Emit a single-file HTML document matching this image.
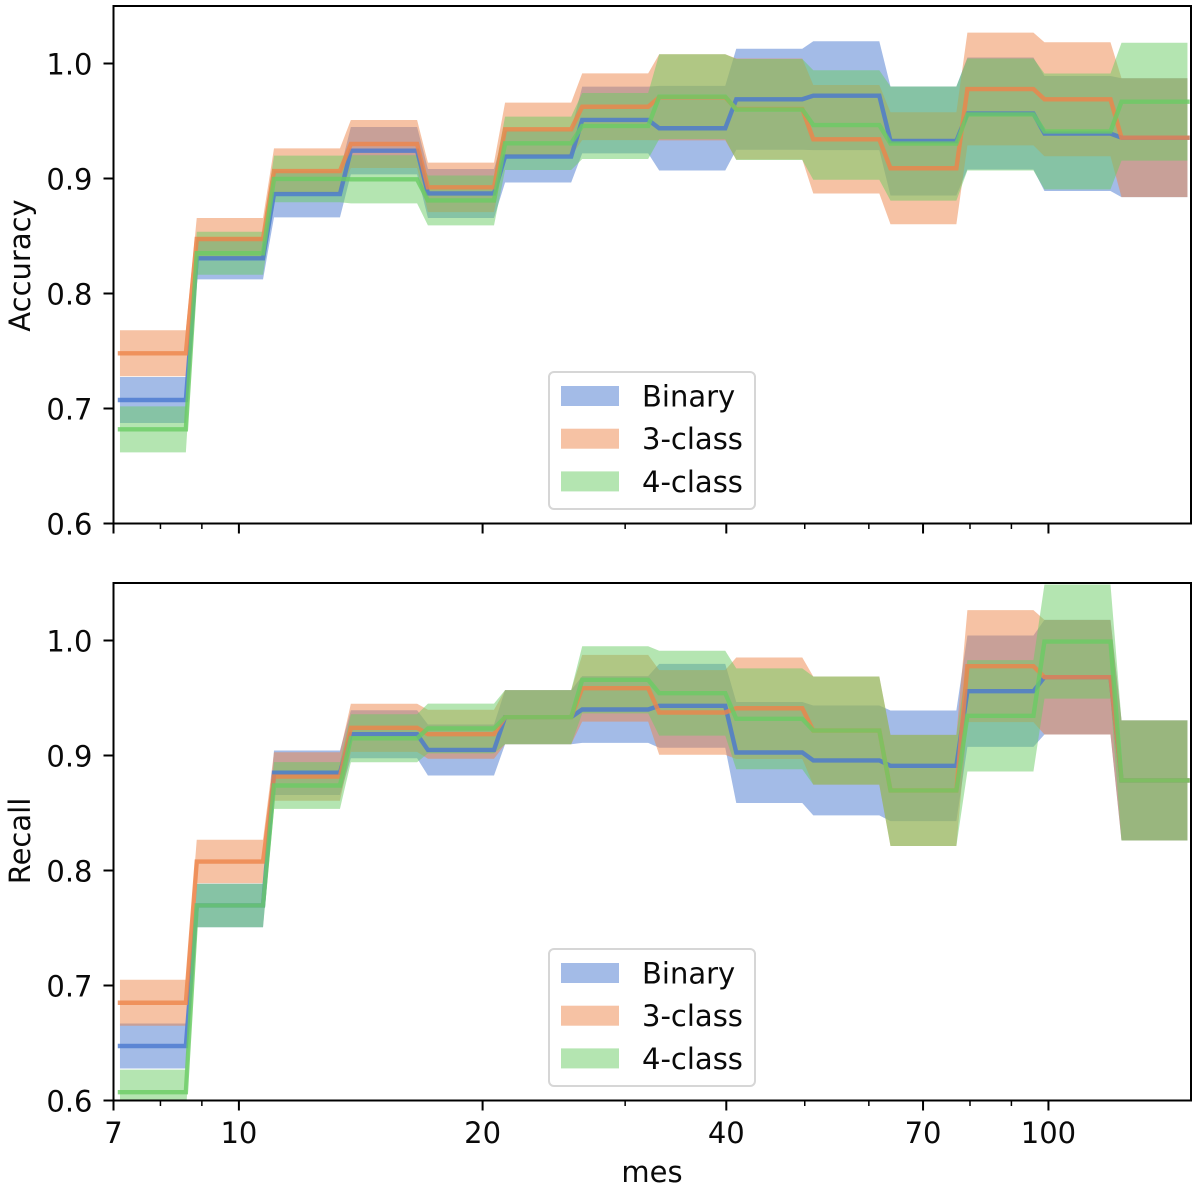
<!DOCTYPE html>
<html lang="en">
<head>
<meta charset="utf-8">
<title>Accuracy and Recall vs mes</title>
<style>
  html, body { margin: 0; padding: 0; background: #ffffff; }
  svg { display: block; }
  text { font-family: "DejaVu Sans", "Liberation Sans", sans-serif; font-size: 29px; fill: #0a0a0a; }
</style>
</head>
<body>
<svg id="chart" xmlns="http://www.w3.org/2000/svg" width="1200" height="1191" viewBox="0 0 1200 1191">
  <rect x="0" y="0" width="1200" height="1191" fill="#ffffff"/>
  <defs>
    <clipPath id="clip-accuracy"><rect x="113.5" y="6" width="1077.5" height="517.5"/></clipPath>
    <clipPath id="clip-recall"><rect x="113.5" y="583" width="1077.5" height="517.5"/></clipPath>
  </defs>
  <g id="panel-accuracy"></g>
  <g id="panel-recall"></g>
  <text transform="translate(30,265.5) rotate(-90)" text-anchor="middle">Accuracy</text>
  <text transform="translate(30,841) rotate(-90)" text-anchor="middle">Recall</text>
  <text x="652" y="1182" text-anchor="middle">mes</text>
</svg>
<script>
// Bin edges along the x axis (mes)
const binStart = [7.13, 8.87, 11.05, 13.75, 17.12, 21.32, 26.55, 33.05, 41.15, 51.23, 63.81, 79.41, 98.87, 123.1];
const binEnd = [8.60, 10.71, 13.33, 16.60, 20.66, 25.73, 32.03, 39.88, 49.65, 61.81, 76.96, 95.82, 119.3, 148.5];

// Accuracy panel
const accBinaryMean = [0.7074, 0.8306, 0.8865, 0.9242, 0.8870, 0.9191, 0.9509, 0.9437, 0.9689, 0.9720, 0.9326, 0.9565, 0.9391, 0.9355];
const accBinaryStd = [0.0200, 0.0183, 0.0203, 0.0206, 0.0213, 0.0226, 0.0290, 0.0368, 0.0439, 0.0473, 0.0474, 0.0487, 0.0500, 0.0517];
const accThreeMean = [0.7480, 0.8474, 0.9065, 0.9300, 0.8923, 0.9428, 0.9624, 0.9706, 0.9604, 0.9341, 0.9089, 0.9778, 0.9689, 0.9355];
const accThreeStd = [0.0200, 0.0183, 0.0197, 0.0209, 0.0215, 0.0232, 0.0290, 0.0374, 0.0439, 0.0472, 0.0487, 0.0490, 0.0496, 0.0517];
const accFourMean = [0.6819, 0.8350, 0.8996, 0.8993, 0.8809, 0.9306, 0.9457, 0.9711, 0.9600, 0.9465, 0.9304, 0.9557, 0.9409, 0.9668];
const accFourStd = [0.0200, 0.0187, 0.0203, 0.0209, 0.0217, 0.0232, 0.0287, 0.0369, 0.0439, 0.0476, 0.0496, 0.0487, 0.0504, 0.0513];

// Recall panel
const recBinaryMean = [0.6474, 0.7696, 0.8850, 0.9185, 0.9048, 0.9333, 0.9400, 0.9432, 0.9026, 0.8957, 0.8910, 0.9559, 0.9681, 0.8783];
const recBinaryStd = [0.0196, 0.0189, 0.0194, 0.0209, 0.0222, 0.0235, 0.0290, 0.0365, 0.0439, 0.0478, 0.0481, 0.0484, 0.0498, 0.0522];
const recThreeMean = [0.6850, 0.8078, 0.8817, 0.9241, 0.9185, 0.9333, 0.9585, 0.9374, 0.9411, 0.9217, 0.8696, 0.9777, 0.9681, 0.8783];
const recThreeStd = [0.0200, 0.0189, 0.0211, 0.0209, 0.0213, 0.0235, 0.0290, 0.0368, 0.0441, 0.0470, 0.0483, 0.0487, 0.0498, 0.0522];
const recFourMean = [0.6072, 0.7696, 0.8739, 0.9150, 0.9235, 0.9333, 0.9658, 0.9542, 0.9319, 0.9217, 0.8696, 0.9345, 0.9991, 0.8783];
const recFourStd = [0.0197, 0.0189, 0.0203, 0.0209, 0.0216, 0.0235, 0.0292, 0.0369, 0.0439, 0.0470, 0.0483, 0.0484, 0.0496, 0.0522];

// Axis ticks and labels
const xMajorTicks = [7, 10, 20, 40, 70, 100];
const xMinorTicks = [8, 9, 30, 50, 60, 80, 90];
const yTicks = [0.6, 0.7, 0.8, 0.9, 1.0];
const seriesNames = ['Binary', '3-class', '4-class'];
const seriesColors = ['#4878d0', '#ee854a', '#6acc64'];

const SVG_NS = 'http://www.w3.org/2000/svg';
const AXIS_LEFT = 113.5;
const AXIS_RIGHT = 1191;
const X_MIN = 7;
const X_MAX = 150;
const Y_MIN = 0.6;
const Y_MAX = 1.05;

function xScale(v) {
  const span = Math.log10(X_MAX) - Math.log10(X_MIN);
  return AXIS_LEFT + (Math.log10(v) - Math.log10(X_MIN)) / span * (AXIS_RIGHT - AXIS_LEFT);
}

function yScaleFor(top, bottom) {
  return function (v) {
    return bottom - (v - Y_MIN) / (Y_MAX - Y_MIN) * (bottom - top);
  };
}

function make(tag, attrs, parent) {
  const el = document.createElementNS(SVG_NS, tag);
  for (const key in attrs) {
    el.setAttribute(key, attrs[key]);
  }
  parent.appendChild(el);
  return el;
}

function bandPoints(means, stds, y) {
  const upper = [];
  const lower = [];
  means.forEach(function (m, i) {
    upper.push(xScale(binStart[i]).toFixed(2) + ',' + y(m + stds[i]).toFixed(2));
    upper.push(xScale(binEnd[i]).toFixed(2) + ',' + y(m + stds[i]).toFixed(2));
    lower.push(xScale(binStart[i]).toFixed(2) + ',' + y(m - stds[i]).toFixed(2));
    lower.push(xScale(binEnd[i]).toFixed(2) + ',' + y(m - stds[i]).toFixed(2));
  });
  return upper.concat(lower.reverse()).join(' ');
}

function linePoints(means, y) {
  const pts = [];
  means.forEach(function (m, i) {
    pts.push(xScale(binStart[i]).toFixed(2) + ',' + y(m).toFixed(2));
    pts.push(xScale(binEnd[i]).toFixed(2) + ',' + y(m).toFixed(2));
  });
  return pts.join(' ');
}

function drawPanel(group, clipId, top, bottom, means, stds, showXLabels, legendOffset) {
  const y = yScaleFor(top, bottom);

  const plot = make('g', { 'clip-path': 'url(#' + clipId + ')' }, group);
  
  

  means.forEach(function (series, s) {
    const band = make('polygon', {
      points: bandPoints(series, stds[s], y),
      fill: seriesColors[s],
      'fill-opacity': 0.5
    }, plot);
    
    
  });

  means.forEach(function (series, s) {
    const line = make('polyline', {
      points: linePoints(series, y),
      fill: 'none',
      stroke: seriesColors[s],
      'stroke-opacity': 0.8,
      'stroke-width': 4.4,
      'stroke-linecap': 'square',
      'stroke-linejoin': 'miter'
    }, plot);
    
    
  });

  yTicks.forEach(function (t) {
    const py = y(t);
    const tick = make('line', { x1: AXIS_LEFT - 10, x2: AXIS_LEFT, y1: py, y2: py, stroke: '#000', 'stroke-width': 2 }, group);
    
    
    const label = make('text', { x: 92.5, y: py + 11, 'text-anchor': 'end' }, group);
    
    
    label.textContent = t.toFixed(1);
  });

  xMajorTicks.forEach(function (t) {
    const px = xScale(t);
    const tick = make('line', { x1: px, x2: px, y1: bottom, y2: bottom + 10, stroke: '#000', 'stroke-width': 2 }, group);
    
    
    if (showXLabels) {
      const label = make('text', { x: px, y: bottom + 42.5, 'text-anchor': 'middle' }, group);
      
      
      label.textContent = String(t);
    }
  });

  xMinorTicks.forEach(function (t) {
    const px = xScale(t);
    const tick = make('line', { x1: px, x2: px, y1: bottom, y2: bottom + 5.5, stroke: '#000', 'stroke-width': 1.5 }, group);
    
    
  });

  const frame = make('rect', { x: AXIS_LEFT, y: top, width: AXIS_RIGHT - AXIS_LEFT, height: bottom - top, fill: 'none', stroke: '#000', 'stroke-width': 2 }, group);
  
  

  const legend = make('g', { transform: 'translate(0,' + legendOffset + ')' }, group);
  
  
  const box = make('rect', { x: 549, y: 372, width: 206, height: 137, rx: 5, ry: 5, fill: '#ffffff', 'fill-opacity': 0.8, stroke: '#d6d6d6', 'stroke-width': 2 }, legend);
  
  
  seriesNames.forEach(function (name, s) {
    const rowY = 386 + s * 42.7;
    const swatch = make('rect', { x: 561, y: rowY, width: 58, height: 20, fill: seriesColors[s], 'fill-opacity': 0.5 }, legend);
    
    
    const label = make('text', { x: 642, y: rowY + 20.5 }, legend);
    
    
    label.textContent = name;
  });
}

drawPanel(
  document.getElementById('panel-accuracy'), 'clip-accuracy', 6, 523.5,
  [accBinaryMean, accThreeMean, accFourMean],
  [accBinaryStd, accThreeStd, accFourStd],
  false, 0
);
drawPanel(
  document.getElementById('panel-recall'), 'clip-recall', 583, 1100.5,
  [recBinaryMean, recThreeMean, recFourMean],
  [recBinaryStd, recThreeStd, recFourStd],
  true, 577
);
</script>
</body>
</html>
